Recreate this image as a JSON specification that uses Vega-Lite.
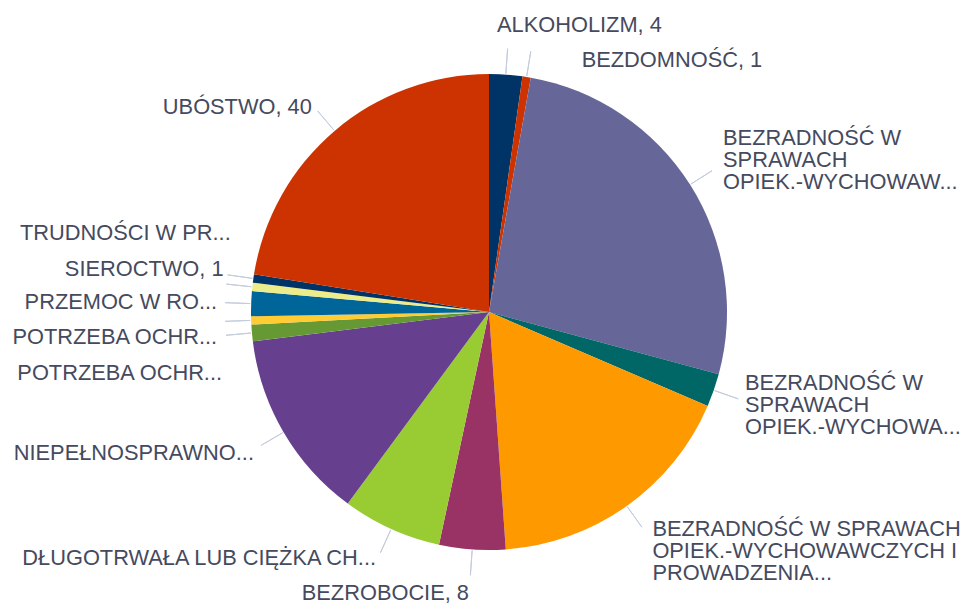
{
  "$schema": "https://vega.github.io/schema/vega-lite/v6.json",
  "width": 952,
  "height": 584,
  "autosize": {"type": "none"},
  "padding": {"left": 13, "top": 20, "right": 0, "bottom": 0},
  "background": "white",
  "view": {"stroke": null},
  "config": {
    "text": {"font": "Liberation Sans", "fontSize": 21.8, "fill": "#454a5e", "color": "#454a5e", "baseline": "middle", "lineBreak": "\n", "lineHeight": 22}
  },
  "data": {
    "values": [
      {"nr": 1, "powod": "ALKOHOLIZM", "liczba": 4, "etykieta": "ALKOHOLIZM, 4"},
      {"nr": 2, "powod": "BEZDOMNOŚĆ", "liczba": 1, "etykieta": "BEZDOMNOŚĆ, 1"},
      {"nr": 3, "powod": "BEZRADNOŚĆ W SPRAWACH OPIEK.-WYCHOWAWCZYCH – RODZINY NIEPEŁNE", "liczba": 47, "etykieta": "BEZRADNOŚĆ W\nSPRAWACH\nOPIEK.-WYCHOWAW..."},
      {"nr": 4, "powod": "BEZRADNOŚĆ W SPRAWACH OPIEK.-WYCHOWAWCZYCH – RODZINY WIELODZIETNE", "liczba": 4, "etykieta": "BEZRADNOŚĆ W\nSPRAWACH\nOPIEK.-WYCHOWA..."},
      {"nr": 5, "powod": "BEZRADNOŚĆ W SPRAWACH OPIEK.-WYCHOWAWCZYCH I PROWADZENIA GOSPODARSTWA DOMOWEGO", "liczba": 31, "etykieta": "BEZRADNOŚĆ W SPRAWACH\nOPIEK.-WYCHOWAWCZYCH I\nPROWADZENIA..."},
      {"nr": 6, "powod": "BEZROBOCIE", "liczba": 8, "etykieta": "BEZROBOCIE, 8"},
      {"nr": 7, "powod": "DŁUGOTRWAŁA LUB CIĘŻKA CHOROBA", "liczba": 12, "etykieta": "DŁUGOTRWAŁA LUB CIĘŻKA CH..."},
      {"nr": 8, "powod": "NIEPEŁNOSPRAWNOŚĆ", "liczba": 23, "etykieta": "NIEPEŁNOSPRAWNO..."},
      {"nr": 9, "powod": "POTRZEBA OCHRONY MACIERZYŃSTWA", "liczba": 2, "etykieta": "POTRZEBA OCHR..."},
      {"nr": 10, "powod": "POTRZEBA OCHRONY MACIERZYŃSTWA – WIELODZIETNOŚĆ", "liczba": 1, "etykieta": "POTRZEBA OCHR..."},
      {"nr": 11, "powod": "PRZEMOC W RODZINIE", "liczba": 3, "etykieta": "PRZEMOC W RO..."},
      {"nr": 12, "powod": "SIEROCTWO", "liczba": 1, "etykieta": "SIEROCTWO, 1"},
      {"nr": 13, "powod": "TRUDNOŚCI W PRZYSTOSOWANIU DO ŻYCIA PO ZWOLNIENIU Z ZAKŁADU KARNEGO", "liczba": 1, "etykieta": "TRUDNOŚCI W PR..."},
      {"nr": 14, "powod": "UBÓSTWO", "liczba": 40, "etykieta": "UBÓSTWO, 40"}
    ]
  },
  "transform": [
    {"stack": "liczba", "groupby": [], "sort": [{"field": "nr", "order": "ascending"}], "as": ["v0", "v1"]},
    {"calculate": "(datum.v0 + datum.v1) / 2", "as": "mid"}
  ],
  "layer": [
    {
      "mark": {"type": "arc", "radius": 238},
      "encoding": {
        "theta": {"field": "liczba", "type": "quantitative", "stack": true},
        "order": {"field": "nr", "type": "quantitative", "sort": "ascending"},
        "color": {
          "field": "powod",
          "type": "nominal",
          "legend": null,
          "scale": {
            "domain": [
              "ALKOHOLIZM",
              "BEZDOMNOŚĆ",
              "BEZRADNOŚĆ W SPRAWACH OPIEK.-WYCHOWAWCZYCH – RODZINY NIEPEŁNE",
              "BEZRADNOŚĆ W SPRAWACH OPIEK.-WYCHOWAWCZYCH – RODZINY WIELODZIETNE",
              "BEZRADNOŚĆ W SPRAWACH OPIEK.-WYCHOWAWCZYCH I PROWADZENIA GOSPODARSTWA DOMOWEGO",
              "BEZROBOCIE",
              "DŁUGOTRWAŁA LUB CIĘŻKA CHOROBA",
              "NIEPEŁNOSPRAWNOŚĆ",
              "POTRZEBA OCHRONY MACIERZYŃSTWA",
              "POTRZEBA OCHRONY MACIERZYŃSTWA – WIELODZIETNOŚĆ",
              "PRZEMOC W RODZINIE",
              "SIEROCTWO",
              "TRUDNOŚCI W PRZYSTOSOWANIU DO ŻYCIA PO ZWOLNIENIU Z ZAKŁADU KARNEGO",
              "UBÓSTWO"
            ],
            "range": ["#003366", "#cc3300", "#666699", "#006666", "#ff9900", "#993366", "#99cc33", "#663f8f", "#669933", "#ffcc33", "#006699", "#ecec8a", "#003366", "#cc3300"]
          }
        }
      }
    },
    {
      "mark": {"type": "arc", "radius": 264, "radius2": 239, "fillOpacity": 0, "stroke": "#c3ccdc", "strokeWidth": 1},
      "encoding": {
        "theta": {"field": "mid", "type": "quantitative", "stack": null},
        "theta2": {"field": "mid"}
      }
    },
    {"transform": [{"filter": "datum.nr == 1"}], "mark": {"type": "text", "radius": 270, "align": "left", "dx": -11, "dy": -18}, "encoding": {"theta": {"field": "mid", "type": "quantitative", "stack": null}, "text": {"field": "etykieta"}}},
    {"transform": [{"filter": "datum.nr == 2"}], "mark": {"type": "text", "radius": 270, "align": "left", "dx": 50, "dy": 15}, "encoding": {"theta": {"field": "mid", "type": "quantitative", "stack": null}, "text": {"field": "etykieta"}}},
    {"transform": [{"filter": "datum.nr == 3"}], "mark": {"type": "text", "radius": 270, "align": "left", "dx": 6, "dy": -29}, "encoding": {"theta": {"field": "mid", "type": "quantitative", "stack": null}, "text": {"field": "etykieta"}}},
    {"transform": [{"filter": "datum.nr == 4"}], "mark": {"type": "text", "radius": 270, "align": "left", "dx": 1, "dy": -18}, "encoding": {"theta": {"field": "mid", "type": "quantitative", "stack": null}, "text": {"field": "etykieta"}}},
    {"transform": [{"filter": "datum.nr == 5"}], "mark": {"type": "text", "radius": 270, "align": "left", "dx": 7, "dy": -3}, "encoding": {"theta": {"field": "mid", "type": "quantitative", "stack": null}, "text": {"field": "etykieta"}}},
    {"transform": [{"filter": "datum.nr == 6"}], "mark": {"type": "text", "radius": 270, "align": "right", "dx": -1, "dy": 12}, "encoding": {"theta": {"field": "mid", "type": "quantitative", "stack": null}, "text": {"field": "etykieta"}}},
    {"transform": [{"filter": "datum.nr == 7 || datum.nr == 11 || datum.nr == 14"}], "mark": {"type": "text", "radius": 270, "align": "right", "dx": -2, "dy": 0}, "encoding": {"theta": {"field": "mid", "type": "quantitative", "stack": null}, "text": {"field": "etykieta"}}},
    {"transform": [{"filter": "datum.nr == 8"}], "mark": {"type": "text", "radius": 270, "align": "right", "dx": -2, "dy": 5}, "encoding": {"theta": {"field": "mid", "type": "quantitative", "stack": null}, "text": {"field": "etykieta"}}},
    {"transform": [{"filter": "datum.nr == 9"}], "mark": {"type": "text", "radius": 270, "align": "right", "dx": 2, "dy": 37}, "encoding": {"theta": {"field": "mid", "type": "quantitative", "stack": null}, "text": {"field": "etykieta"}}},
    {"transform": [{"filter": "datum.nr == 10"}], "mark": {"type": "text", "radius": 270, "align": "right", "dx": -2, "dy": 15}, "encoding": {"theta": {"field": "mid", "type": "quantitative", "stack": null}, "text": {"field": "etykieta"}}},
    {"transform": [{"filter": "datum.nr == 12"}], "mark": {"type": "text", "radius": 270, "align": "right", "dx": 3, "dy": -14}, "encoding": {"theta": {"field": "mid", "type": "quantitative", "stack": null}, "text": {"field": "etykieta"}}},
    {"transform": [{"filter": "datum.nr == 13"}], "mark": {"type": "text", "radius": 270, "align": "right", "dx": 9, "dy": -41}, "encoding": {"theta": {"field": "mid", "type": "quantitative", "stack": null}, "text": {"field": "etykieta"}}}
  ]
}
